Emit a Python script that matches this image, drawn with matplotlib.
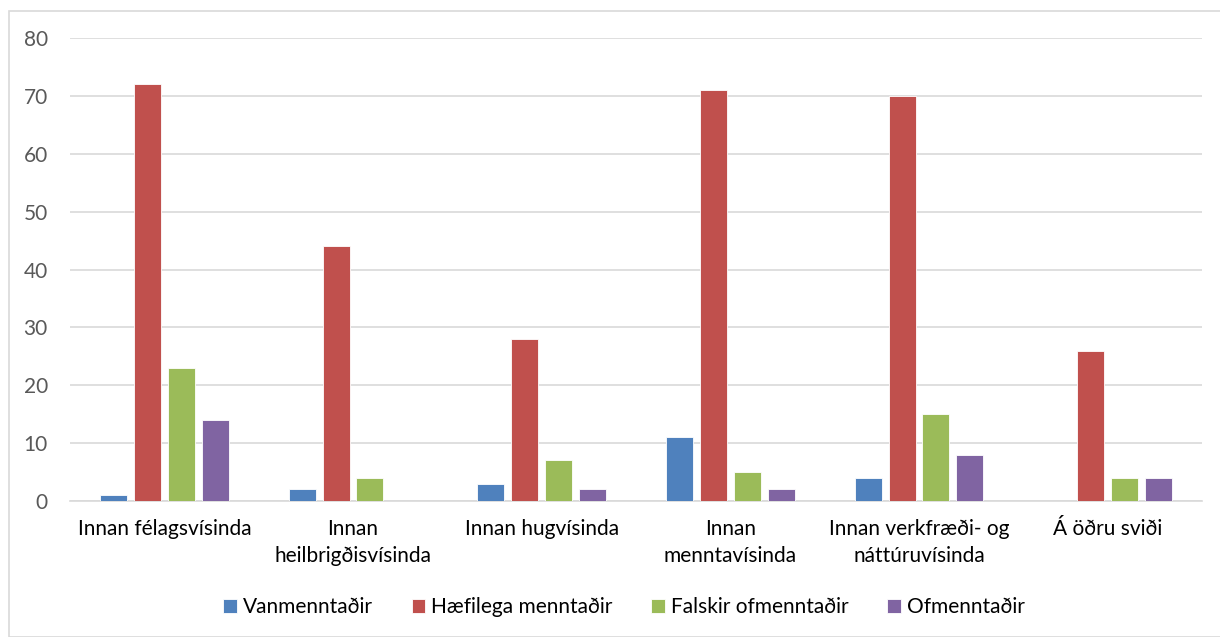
import numpy as np
import matplotlib.pyplot as plt
from matplotlib.patches import Rectangle

plt.rcParams['font.family'] = ['Lato', 'DejaVu Sans']

categories = ["Innan félagsvísinda", "Innan\nheilbrigðisvísinda", "Innan hugvísinda",
              "Innan\nmenntavísinda", "Innan verkfræði- og\nnáttúruvísinda", "Á öðru sviði"]
series_names = ["Vanmenntaðir", "Hæfilega menntaðir", "Falskir ofmenntaðir", "Ofmenntaðir"]
vanmenntadir = [1, 2, 3, 11, 4, 0]
haefilega = [72, 44, 28, 71, 70, 26]
falskir = [23, 4, 7, 5, 15, 4]
ofmenntadir = [14, 0, 2, 2, 8, 4]
colors = ["#4F81BD", "#C0504D", "#9BBB59", "#8064A2"]

fig = plt.figure(figsize=(12.2, 6.37), dpi=100)
ax = fig.add_axes([70 / 1220, 1 - 501 / 637, 1132 / 1220, 463 / 637])

x = np.arange(len(categories))
width = 0.143
pitch = 0.18
values = [vanmenntadir, haefilega, falskir, ofmenntadir]
for i, (name, vals, c) in enumerate(zip(series_names, values, colors)):
    ax.bar(x + (i - 1.5) * pitch, vals, width, color=c, label=name,
           edgecolor="white", linewidth=0.6, zorder=3)

ax.set_xlim(-0.5, len(categories) - 0.5)
ax.set_ylim(0, 80)
ax.set_yticks(range(0, 81, 10))
ax.yaxis.grid(True, color="#D9D9D9", linewidth=1.2, zorder=0)
for s in ["top", "right", "left"]:
    ax.spines[s].set_visible(False)
ax.spines["bottom"].set_color("#D9D9D9")
ax.spines["bottom"].set_linewidth(1.2)
ax.tick_params(axis="both", length=0, labelsize=15)
ax.tick_params(axis="y", colors="#595959", pad=16)
ax.tick_params(axis="x", colors="#000000", pad=13)
ax.set_xticks(x)
ax.set_xticklabels(categories, linespacing=1.45)

leg = fig.legend(loc="center", bbox_to_anchor=(624 / 1220, 1 - 607 / 637), ncol=4,
                 frameon=False, fontsize=15, handlelength=0.65, handleheight=0.65,
                 handletextpad=0.3, columnspacing=1.85)

# outer chart border
fig.patches.append(Rectangle((8.5 / 1220, 0), 1.2, (637 - 10.5) / 637,
                             transform=fig.transFigure, fill=False,
                             edgecolor="#D9D9D9", linewidth=1.2))

fig.savefig("out.png", dpi=100)
